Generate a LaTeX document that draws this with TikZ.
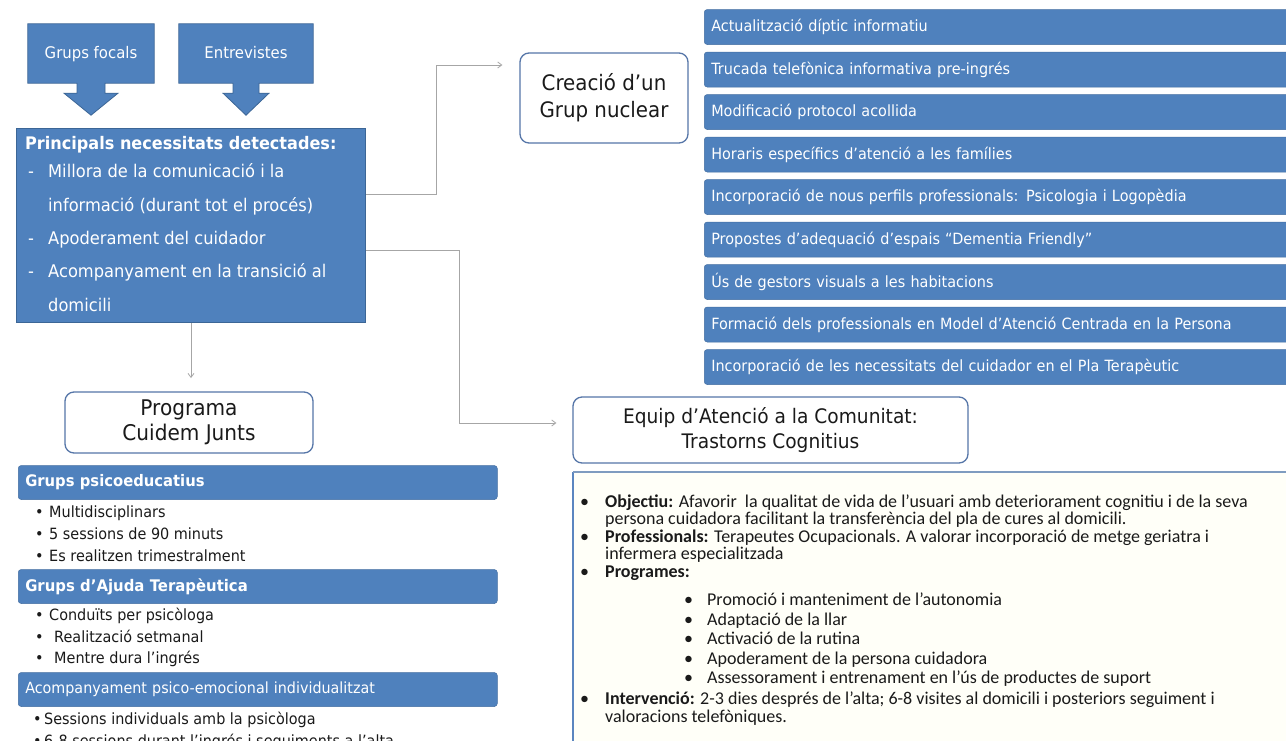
\documentclass[tikz,border=0pt]{standalone}
\usepackage{fontspec}
\setmainfont{DejaVu Sans}[FakeStretch=0.93]
\newfontfamily\calfont{Carlito}
\usetikzlibrary{arrows.meta,backgrounds,calc}
\definecolor{obl}{HTML}{4F81BD}
\definecolor{obd}{HTML}{3C6696}
\definecolor{rbd}{HTML}{5676A8}
\definecolor{cgr}{HTML}{A6A6A6}
\definecolor{txt}{HTML}{1A1A1A}
\definecolor{cream}{HTML}{FFFFF8}
\definecolor{ebd}{HTML}{7F9CC0}
\definecolor{ebl}{HTML}{5B86C0}
\tikzset{
  callbox/.style={text=white, font=\fontsize{16}{19}\selectfont, minimum height=59pt, inner sep=0,
    text height=11pt, text depth=1pt},
  callfill/.style={fill=obl, draw=obd, line width=0.8pt},
  bluebox/.style={fill=obl, draw=obd, line width=1pt, inner sep=0},
  rbar/.style={fill=obl, draw=obl!85!black, line width=0.5pt, rounded corners=3pt, anchor=west,
    minimum height=35pt, text width=600pt, inner xsep=7pt, inner ysep=0, align=left, text=white,
    font=\fontsize{15.5}{18}\selectfont},
  lbar/.style={rbar, text width=465pt, minimum height=34pt},
  wbox/.style={draw=rbd, line width=1.3pt, fill=white, rounded corners=9pt, align=center, inner sep=0, text=txt},
  conn/.style={draw=cgr, line width=0.8pt, -{Straight Barb[length=4pt,width=6pt]}},
  wl/.style={anchor=base west, inner sep=0, text=white, font=\fontsize{17.5}{20}\selectfont},
  bl/.style={anchor=base west, inner sep=0, text=txt, font=\fontsize{15.5}{18}\selectfont},
  cl/.style={anchor=base west, inner sep=0, text=txt, font=\calfont\fontsize{18}{20}\selectfont},
}
\begin{document}
\begin{tikzpicture}[x=1pt,y=-1pt]
\clip (0,0) rectangle (1286,740);

% callouts
\node[callbox, minimum width=126pt] (gf) at (91,53.5) {Grups focals};
\node[callbox, minimum width=134pt] (en) at (246,53.5) {Entrevistes};
\begin{scope}[on background layer]
\fill[white] (0,0) rectangle (1286,740);
\draw[callfill] (gf.south west) -- (gf.north west) -- (gf.north east) -- (gf.south east)
  -- ([xshift=14pt]gf.south) -- ++(0,10) -- ++(13,0) -- ++(-27,22) -- ++(-27,-22) -- ++(13,0) -- ++(0,-10) -- cycle;
\draw[callfill] (en.south west) -- (en.north west) -- (en.north east) -- (en.south east)
  -- ([xshift=13pt]en.south) -- ++(0,10) -- ++(10,0) -- ++(-23,22) -- ++(-23,-22) -- ++(10,0) -- ++(0,-10) -- cycle;
\end{scope}

% principal box
\node[bluebox, minimum width=349pt, minimum height=194pt, anchor=north west] (pn) at (16,128) {};
\node[wl, font=\bfseries\fontsize{17.3}{20}\selectfont] (p0) at (25,149) {Principals necessitats detectades:};
\node[wl] (pd1) at (28,177) {-};
\node[wl] (p1) at (48,177) {Millora de la comunicació i la};
\node[wl] (p2) at (48,211) {informació (durant tot el procés)};
\node[wl] (pd2) at (28,244) {-};
\node[wl] (p3) at (48,244) {Apoderament del cuidador};
\node[wl] (pd3) at (28,277) {-};
\node[wl] (p4) at (48,277) {Acompanyament en la transició al};
\node[wl] (p5) at (48,311) {domicili};

% grup nuclear
\node[wbox, minimum width=168pt, minimum height=90pt, font=\fontsize{21.3}{27}\selectfont] (cg) at (604,98) {Creació d’un\\Grup nuclear};

% right bars
\node[rbar] (r1) at (704,27) {Actualització díptic informatiu};
\node[rbar] (r2) at (704,69.5) {Trucada telefònica informativa pre-ingrés};
\node[rbar] (r3) at (704,112) {Modificació protocol acollida};
\node[rbar] (r4) at (704,154.5) {Horaris específics d’atenció a les famílies};
\node[rbar] (r5) at (704,197) {Incorporació de nous perfils professionals: Psicologia i Logopèdia};
\node[rbar] (r6) at (704,239.5) {Propostes d’adequació d’espais “Dementia Friendly”};
\node[rbar] (r7) at (704,282) {Ús de gestors visuals a les habitacions};
\node[rbar] (r8) at (704,324.5) {Formació dels professionals en Model d’Atenció Centrada en la Persona};
\node[rbar] (r9) at (704,367) {Incorporació de les necessitats del cuidador en el Pla Terapèutic};

% programa
\node[wbox, minimum width=248pt, minimum height=61pt, font=\fontsize{21.6}{25}\selectfont, text depth=5pt] (pc) at (189,422.5) {Programa\\Cuidem Junts};

% equip
\node[wbox, minimum width=395pt, minimum height=66pt, font=\fontsize{20}{25}\selectfont] (eq) at (770.5,430) {Equip d’Atenció a la Comunitat:\\Trastorns Cognitius};

% connectors
\draw[conn] ([yshift=31pt]pn.east) -- ++(70,0) |- ([xshift=-17pt,yshift=33pt]cg.west);
\draw[conn] ([yshift=-25pt]pn.east) -- ++(93,0) |- ([xshift=-16pt,yshift=7pt]eq.west);
\draw[conn] (pn.south) -- ++(0,55);

% left lists
\node[lbar, font=\bfseries\fontsize{15.9}{19}\selectfont] (g1) at (18,482.5) {Grups psicoeducatius};
\node[bl] (g1a) at (35,517) {\makebox[14pt][l]{•}Multidisciplinars};
\node[bl] (g1b) at (35,539) {\makebox[14pt][l]{•}5 sessions de 90 minuts};
\node[bl] (g1c) at (35,561) {\makebox[14pt][l]{•}Es realitzen trimestralment};
\node[lbar, font=\bfseries\fontsize{16}{19}\selectfont] (g2) at (18,586.5) {Grups d’Ajuda Terapèutica};
\node[bl] (g2a) at (35,620) {\makebox[14pt][l]{•}Conduïts per psicòloga};
\node[bl] (g2b) at (35,642) {\makebox[19pt][l]{•}Realització setmanal};
\node[bl] (g2c) at (35,663) {\makebox[19pt][l]{•}Mentre dura l’ingrés};
\node[lbar, font=\fontsize{15.4}{19}\selectfont] (g3) at (18,689.5) {Acompanyament psico-emocional individualitzat};
\node[bl] (g3a) at (33,724) {\makebox[11pt][l]{•}Sessions individuals amb la psicòloga};
\node[bl] (g3b) at (33,746) {\makebox[11pt][l]{•}6-8 sessions durant l’ingrés i seguiments a l’alta};

% equip detail box
\node[fill=cream, minimum width=720pt, minimum height=275pt, anchor=north west, inner sep=0] (eb) at (573,472) {};
\draw[ebl, line width=1.5pt] (eb.south west) -- (eb.north west);
\draw[ebd, line width=1.8pt] (eb.north west) -- (eb.north east);
\node[cl] (t1) at (580,507) {\makebox[25pt][l]{•}\textbf{Objectiu:} Afavorir\ \ la qualitat de vida de l’usuari amb deteriorament cognitiu i de la seva};
\node[cl] (t2) at (605,524) {persona cuidadora facilitant la transferència del pla de cures al domicili.};
\node[cl] (t3) at (580,542) {\makebox[25pt][l]{•}\textbf{Professionals:} Terapeutes Ocupacionals. A valorar incorporació de metge geriatra i};
\node[cl] (t4) at (605,559) {infermera especialitzada};
\node[cl] (t5) at (580,577) {\makebox[25pt][l]{•}\textbf{Programes:}};
\node[cl] (t6) at (684,605) {\makebox[23pt][l]{•}Promoció i manteniment de l’autonomia};
\node[cl] (t7) at (684,625) {\makebox[23pt][l]{•}Adaptació de la llar};
\node[cl] (t8) at (684,644) {\makebox[23pt][l]{•}Activació de la rutina};
\node[cl] (t9) at (684,664) {\makebox[23pt][l]{•}Apoderament de la persona cuidadora};
\node[cl] (t10) at (684,683) {\makebox[23pt][l]{•}Assessorament i entrenament en l’ús de productes de suport};
\node[cl] (t11) at (580,704) {\makebox[25pt][l]{•}\textbf{Intervenció:} 2-3 dies després de l’alta; 6-8 visites al domicili i posteriors seguiment i};
\node[cl] (t12) at (605,722) {valoracions telefòniques.};
\end{tikzpicture}
\end{document}
